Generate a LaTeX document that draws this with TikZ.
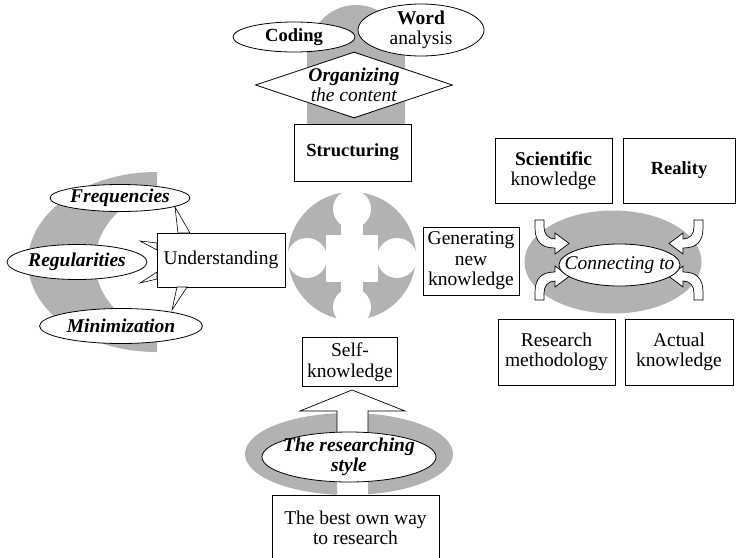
\documentclass[tikz,border=0pt]{standalone}
\usepackage{fontspec}
\setmainfont{Liberation Serif}
\usetikzlibrary{shapes.geometric}
\definecolor{lgray}{RGB}{178,178,178}
\newcommand\myBent{%
  \filldraw[fill=white, line width=0.7pt] (-84,-40) -- (-84,-32)
    .. controls (-84,-18) and (-77,-12) .. (-64,-12) -- (-64,-6) -- (-50,-16.5)
    -- (-64,-27) -- (-64,-21) .. controls (-71,-21) and (-75,-26) .. (-75,-33)
    -- (-75,-40) -- cycle;}
\begin{document}
\begin{tikzpicture}[x=1pt,y=-1pt, line width=0.8pt,
  txt/.style={font=\fontsize{19.5}{20.5}\selectfont, align=center},
  boldtxt/.style={font=\fontsize{18.5}{20.5}\selectfont\bfseries, align=center},
  plainbox/.style={draw, fill=white, rectangle, inner sep=0pt},
  ovalnode/.style={draw, fill=white, ellipse, inner xsep=-20pt, inner ysep=-10pt},
  wedge/.style={fill=white, draw, line width=0.6pt, line join=miter}]
\useasboundingbox (0,0) rectangle (736,557);
\fill[white] (0,0) rectangle (736,557);

% ---------- left crescent ----------
\begin{scope}
  \clip (0,150) rectangle (157,370);
  \fill[lgray, even odd rule] (157,262) ellipse [x radius=129, y radius=90]
    (200,262) ellipse [x radius=105, y radius=80];
\end{scope}

% ---------- top gray shape ----------
\fill[lgray] (307,135) -- (307,57) arc[start angle=180, end angle=360, x radius=49, y radius=52] -- (405,135) -- cycle;

\node[ovalnode, boldtxt, minimum width=122, minimum height=30] (coding) at (294,37) {Coding};
\node[ovalnode, txt, minimum width=126, minimum height=52] (word) at (421,30) {\textbf{Word}\\analysis};
\node[draw, fill=white, diamond, txt, inner xsep=-20pt, inner ysep=-10pt, shape aspect=3,
      minimum width=197, minimum height=66] (org) at (354,85) {\textbf{\textit{Organizing}}\\\textit{the content}};
\node[plainbox, boldtxt, minimum width=117, minimum height=57] (struct) at (352.5,152.5) {Structuring};

% ---------- left group ----------
\node[ovalnode, txt, minimum width=140, minimum height=27] (freq) at (120,198) {\textbf{\textit{Frequencies}}};
\node[ovalnode, txt, minimum width=140, minimum height=35] (reg) at (77,262) {\textbf{\textit{Regularities}}};
\node[ovalnode, txt, minimum width=163, minimum height=35] (mini) at (121,326) {\textbf{\textit{Minimization}}};
\node[plainbox, txt, minimum width=128, minimum height=54] (und) at (221,260) {Understanding};
\filldraw[wedge] (178,233) -- (175,207) -- (190,233) -- cycle;
\filldraw[wedge] (157,243) -- (140,241) -- (157,250) -- cycle;
\filldraw[wedge] (157,272) -- (140,283) -- (157,279) -- cycle;
\filldraw[wedge] (177,287) -- (172,310) -- (187,287) -- cycle;

% ---------- central circle ----------
\fill[lgray] (352,256) circle[radius=64];
\fill[white] (352,209) circle[radius=19] (307,258) circle[radius=20]
  (397,258) circle[radius=20] (352,307) circle[radius=19];
\fill[white] (326,235) rectangle (378,282);
\fill[white] (341,222) rectangle (363,240);
\fill[white] (341,277) rectangle (363,294);

\node[plainbox, txt, minimum width=96, minimum height=68] (gen) at (471,261) {Generating\\new\\knowledge};

% ---------- right group ----------
\node[plainbox, txt, minimum width=117, minimum height=65] (sci) at (553.5,170.5) {\textbf{Scientific}\\knowledge};
\node[plainbox, boldtxt, minimum width=112, minimum height=65] (real) at (679,170.5) {Reality};
\fill[lgray] (613,262) ellipse [x radius=88.5, y radius=51.5];
\begin{scope}[shift={(619,260)}] \myBent \end{scope}
\begin{scope}[shift={(619,260)}, xscale=-1] \myBent \end{scope}
\begin{scope}[shift={(619,260)}, yscale=-1] \myBent \end{scope}
\begin{scope}[shift={(619,260)}, scale=-1] \myBent \end{scope}
\node[ovalnode, txt, minimum width=121, minimum height=42] (conn) at (619.5,265) {\textit{Connecting to}};
\node[plainbox, txt, minimum width=117, minimum height=66] (meth) at (556.5,352) {Research\\methodology};
\node[plainbox, txt, minimum width=108, minimum height=66] (act) at (679,352) {Actual\\knowledge};

% ---------- bottom group ----------
\node[plainbox, txt, minimum width=95, minimum height=49] (self) at (350,362) {Self-\\knowledge};
\begin{scope}
  \clip (200,380) rectangle (337,500);
  \fill[lgray, even odd rule] (349,454) ellipse [x radius=104, y radius=41]
    (349,457) ellipse [x radius=87, y radius=25];
\end{scope}
\begin{scope}
  \clip (368,380) rectangle (470,500);
  \fill[lgray, even odd rule] (349,454) ellipse [x radius=104, y radius=41]
    (349,457) ellipse [x radius=87, y radius=25];
\end{scope}
\filldraw[fill=white, line width=0.7pt] (337,440) -- (337,411) -- (300,411) -- (352,390)
  -- (405,411) -- (368,411) -- (368,440);
\node[ovalnode, txt, minimum width=174, minimum height=50] (style) at (349,457) {\textbf{\textit{The researching}}\\\textbf{\textit{style}}};
\node[plainbox, txt, minimum width=167, minimum height=66] (best) at (355.5,528) {The best own way\\to research};
\end{tikzpicture}
\end{document}
